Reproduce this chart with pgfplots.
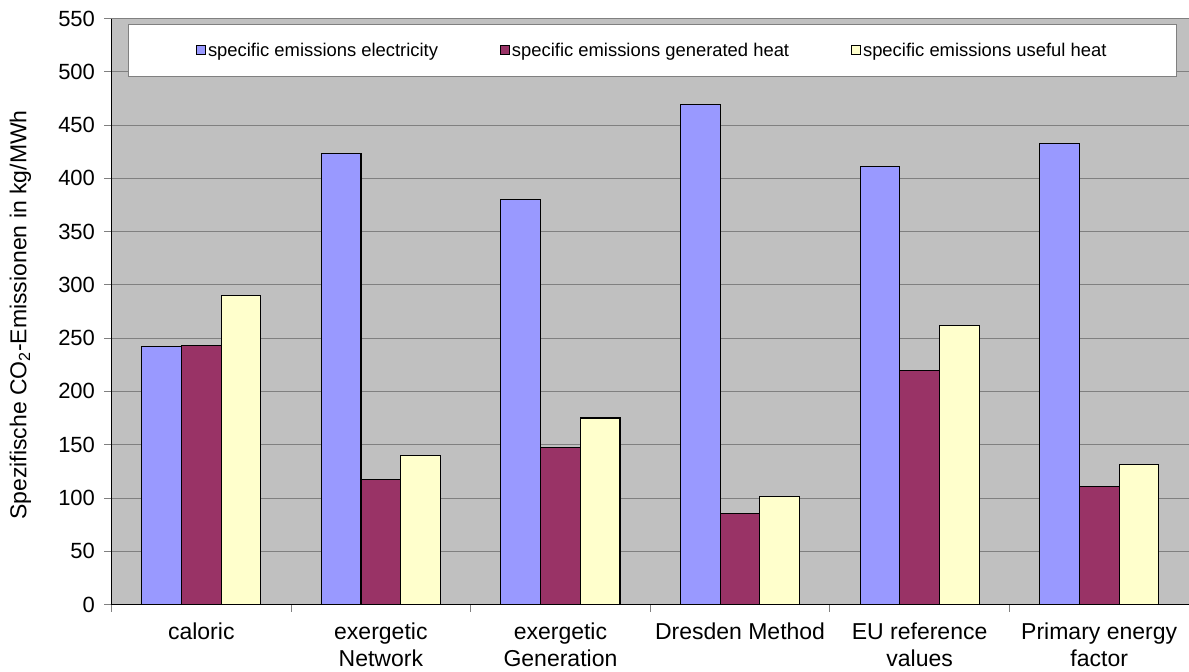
\documentclass[border=0pt]{standalone}
\usepackage{fontspec}
\setmainfont{Liberation Sans}
\usepackage{pgfplots}
\pgfplotsset{compat=1.18}
\definecolor{cblue}{HTML}{9999FF}
\definecolor{cmaroon}{HTML}{993366}
\definecolor{cyellow}{HTML}{FFFFCC}
\definecolor{bggray}{HTML}{C0C0C0}
\definecolor{gridgray}{HTML}{808080}
\begin{document}
\begin{tikzpicture}
\path[use as bounding box] (-111.5pt,-67.5pt) rectangle (1077.5pt,604.5pt);
\begin{axis}[
  at={(0pt,0pt)}, anchor=south west,
  scale only axis, width=1077.5pt, height=586pt,
  xmin=-0.5, xmax=5.5, ymin=0, ymax=550,
  ybar, bar width=39.7pt,
  axis background/.style={fill=bggray},
  axis line style={draw=none},
  xtick={-0.5,0.5,...,5.5},
  x tick label as interval,
  xticklabels={caloric,{exergetic\\Network},{exergetic\\Generation},{Dresden Method},{EU reference\\values},{Primary energy\\factor}},
  xticklabel style={align=center, font=\fontsize{23}{27}\selectfont, yshift=-8pt},
  ytick={0,50,...,550},
  yticklabel style={font=\fontsize{22}{26}\selectfont, xshift=-6pt},
  /pgf/number format/assume math mode=true,
  tick pos=left, tick align=outside,
  major tick length=7pt,
  tick style={draw=gridgray, line width=0.8pt},
  ymajorgrids, major grid style={draw=gridgray, line width=0.9pt},
  ylabel={Spezifische CO\textsubscript{2}-Emissionen in kg/MWh},
  ylabel style={font=\fontsize{23}{27}\selectfont, at={(axis description cs:-0.0845,0.494)}, anchor=center, rotate=0},
  legend columns=3,
  legend style={at={(rel axis cs:0.5019,0.9906)}, anchor=north, draw=gridgray, line width=0.9pt, fill=white,
    font=\fontsize{18.4}{22}\selectfont, inner xsep=68pt, inner ysep=16.5pt,
    /tikz/every even column/.append style={column sep=60pt}},
  legend image code/.code={\draw[#1,draw=black,line width=0.9pt] (0pt,-4.5pt) rectangle (9pt,4.5pt);},
  after end axis/.code={\draw[black,line width=1.1pt] (rel axis cs:0,1) -- (rel axis cs:0,0) -- (rel axis cs:1,0);},
]
\addplot[fill=cblue, draw=black, line width=1.1pt, bar shift=-39.7pt] coordinates {(0,242) (1,423) (2,380) (3,469) (4,411) (5,433)};
\addplot[fill=cmaroon, draw=black, line width=1.1pt, bar shift=0pt] coordinates {(0,243) (1,117) (2,147) (3,85) (4,220) (5,111)};
\addplot[fill=cyellow, draw=black, line width=1.1pt, bar shift=39.7pt] coordinates {(0,290) (1,140) (2,175) (3,101) (4,262) (5,131)};
\legend{specific emissions electricity, specific emissions generated heat, specific emissions useful heat}
\end{axis}
\end{tikzpicture}
\end{document}
